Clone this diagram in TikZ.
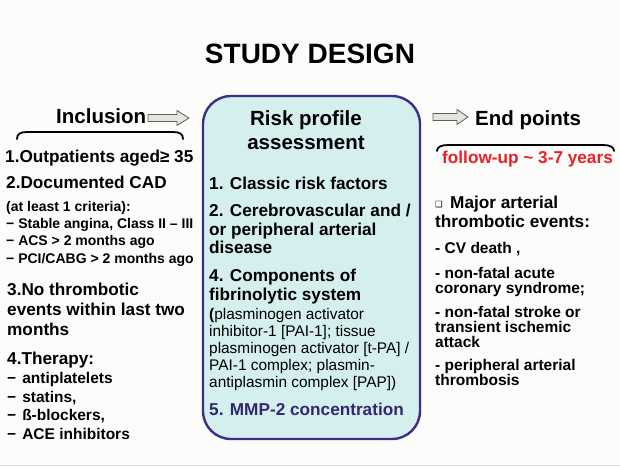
\documentclass[tikz,border=0pt]{standalone}
\usepackage{fontspec}
\setmainfont{Liberation Sans}
\newfontfamily\symfont{DejaVu Sans}
\usepackage{tikz}
\usetikzlibrary{positioning}
\definecolor{paper}{RGB}{252,252,250}
\definecolor{boxfill}{RGB}{213,238,238}
\definecolor{boxline}{RGB}{58,48,140}
\definecolor{mmpblue}{RGB}{50,40,112}
\definecolor{fupred}{RGB}{232,32,42}
\definecolor{arrfill}{RGB}{228,228,224}
\definecolor{arrline}{RGB}{95,95,95}
\tikzset{
  txt/.style={inner sep=0pt,anchor=base west},
  hd/.style={txt,font=\fontsize{20.5}{24}\selectfont\bfseries},
  bigl/.style={txt,font=\fontsize{17.2}{20}\selectfont\bfseries},
  midl/.style={txt,font=\fontsize{15.5}{18}\selectfont\bfseries},
  smalll/.style={txt,font=\fontsize{14}{17}\selectfont\bfseries},
  plain/.style={txt,font=\fontsize{15.4}{18}\selectfont},
  brace/.style={line width=1.8pt,line cap=round},
  hollow/.style={draw=arrline,fill=arrfill,line width=0.8pt,line join=miter},
}
% hollow block arrow: start x, head x, tip x, middle y
\newcommand*{\harrow}[4]{%
  \draw[hollow] (#1,{#4-3.5}) -- (#2,{#4-3.5}) -- (#2,{#4-7.5}) -- (#3,#4)
    -- (#2,{#4+7.5}) -- (#2,{#4+3.5}) -- (#1,{#4+3.5}) -- cycle;}

\begin{document}
\begin{tikzpicture}[x=1pt,y=-1pt]
\useasboundingbox (0,0) rectangle (620,467);
\fill[paper] (0,0) rectangle (620,467);
\draw[black!15,line width=1pt] (0,465.5) -- (620,465.5);
% title
\node[font=\fontsize{28}{32}\selectfont\bfseries,inner sep=0pt,anchor=base] (title) at (310,63) {STUDY DESIGN};
% middle box
\node[draw=boxline,fill=boxfill,line width=2.4pt,rounded corners=28pt,
  minimum width=217pt,minimum height=343pt] (risk) at (311.5,267.5) {};
\node[hd,anchor=base] (rp1) at (306,125) {Risk profile};
\node[hd,anchor=base] (rp2) at (306,149) {assessment};
\node[bigl] (r1) at (209,189) {1. Classic risk factors};
\node[bigl] (r2a) at (209,216) {2. Cerebrovascular and /};
\node[bigl] (r2b) at (209,235) {or peripheral arterial};
\node[bigl] (r2c) at (209,253) {disease};
\node[bigl] (r4a) at (209,281) {4. Components of};
\node[bigl] (r4b) at (209,300) {fibrinolytic system};
\node[plain] (r4c) at (209,319) {\textbf{(}plasminogen activator};
\node[plain] (r4d) at (209,336) {inhibitor-1 [PAI-1]; tissue};
\node[plain] (r4e) at (209,353) {plasminogen activator [t-PA] /};
\node[plain] (r4f) at (209,370) {PAI-1 complex; plasmin-};
\node[plain] (r4g) at (209,387) {antiplasmin complex [PAP])};
\node[bigl,text=mmpblue] (r5) at (209,415) {5. MMP-2 concentration};
% inclusion side
\node[hd] (inc) at (56,123) {Inclusion};
\harrow{148}{177}{189}{118}
\draw[brace] (17,139) .. controls (17,134) and (20,132) .. (27,132) -- (173,132)
  .. controls (180,132) and (183,134) .. (183,139);
\node[bigl] (i1) at (5,162) {1.Outpatients aged≥ 35};
\node[bigl] (i2) at (6,188) {2.Documented CAD};
\node[smalll] (i2a) at (6,211) {(at least 1 criteria):};
\node[smalll] (i2b) at (6,228) {− Stable angina, Class II – III};
\node[smalll] (i2c) at (6,245) {− ACS > 2 months ago};
\node[smalll] (i2d) at (6,263) {− PCI/CABG > 2 months ago};
\node[bigl] (i3a) at (7,295) {3.No thrombotic};
\node[bigl] (i3b) at (7,315) {events within last two};
\node[bigl] (i3c) at (7,335) {months};
\node[bigl] (i4) at (7,364) {4.Therapy:};
\node[midl] (t1) at (7,383) {−\hspace{6pt}antiplatelets};
\node[midl] (t2) at (7,402) {−\hspace{6pt}statins,};
\node[midl] (t3) at (7,420) {−\hspace{6pt}ß-blockers,};
\node[midl] (t4) at (7,439) {−\hspace{6pt}ACE inhibitors};
% end points side
\harrow{433}{457}{468}{117}
\node[hd] (endp) at (475,125) {End points};
\draw[brace] (437,151) .. controls (437,147) and (441,145) .. (448,145) -- (603,145)
  .. controls (610,145) and (614,147) .. (614,151);
\node[bigl,text=fupred] (fup) at (442,163) {follow-up \char`~\ 3-7 years};
\node[txt,font=\symfont\fontsize{8.5}{10}\selectfont] (bul) at (435,207) {❑};
\node[bigl] (e0a) at (450,208) {Major arterial};
\node[bigl] (e0b) at (435,227) {thrombotic events:};
\node[midl] (e1) at (435,253) {- CV death ,};
\node[midl] (e2a) at (435,278) {- non-fatal acute};
\node[midl] (e2b) at (435,293) {coronary syndrome;};
\node[midl] (e3a) at (435,317) {- non-fatal stroke or};
\node[midl] (e3b) at (435,332) {transient ischemic};
\node[midl] (e3c) at (435,347) {attack};
\node[midl] (e4a) at (435,370) {- peripheral arterial};
\node[midl] (e4b) at (435,385) {thrombosis};
\end{tikzpicture}
\end{document}
